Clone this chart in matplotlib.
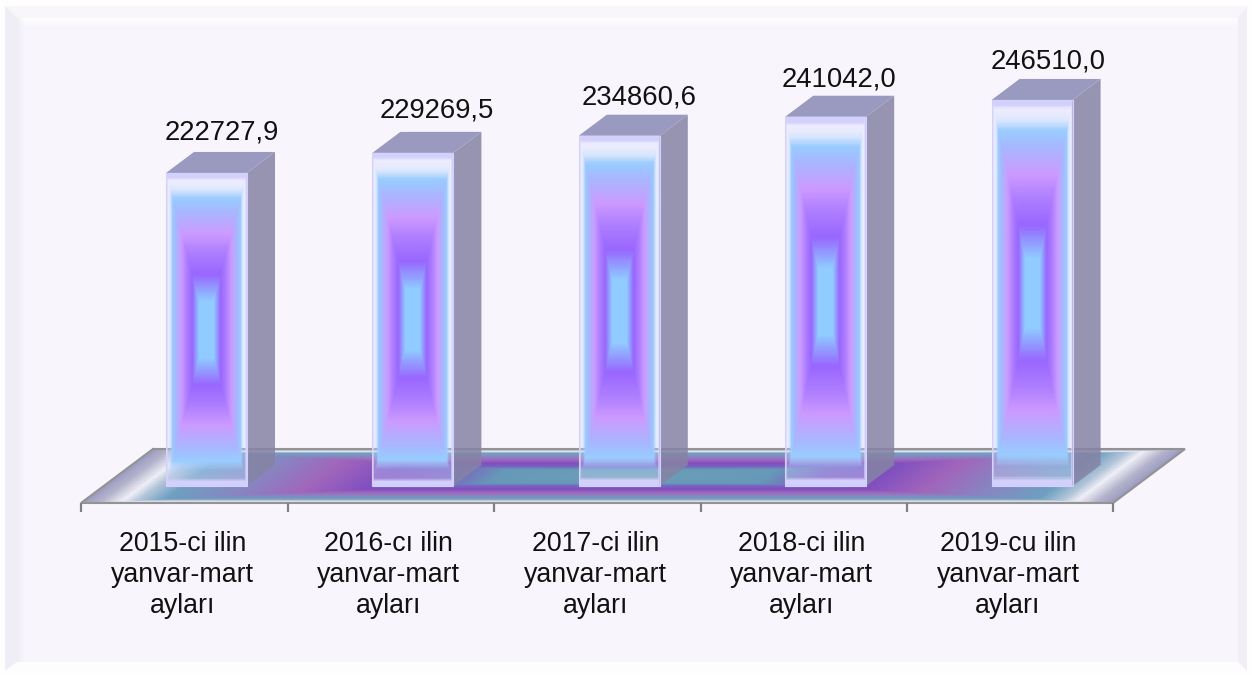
import numpy as np
import matplotlib
matplotlib.use("Agg")
import matplotlib.pyplot as plt
from matplotlib.patches import Polygon, Rectangle
from matplotlib.colors import to_rgb

# ---- data
categories = ["2015-ci ilin\nyanvar-mart\nayları",
              "2016-cı ilin\nyanvar-mart\nayları",
              "2017-ci ilin\nyanvar-mart\nayları",
              "2018-ci ilin\nyanvar-mart\nayları",
              "2019-cu ilin\nyanvar-mart\nayları"]
values = [222727.9, 229269.5, 234860.6, 241042.0, 246510.0]
value_labels = ["222727,9", "229269,5", "234860,6", "241042,0", "246510,0"]

# ---- layout (pixels of the 1252x675 canvas)
W, H = 1252, 675
CAT_W = 206.4          # px per category
CAT0 = 184.5           # px of first category centre
BASE_PX = 486          # px of bar foot
PX_PER_UNIT = 0.00307  # px per value unit
Y_BASE = 120758.0      # value at bar foot
label_dx = [15, 24, 20, 13, 16]
label_dy = [40, 42, 38, 37, 38]

plt.rcParams["font.family"] = ["Liberation Sans", "DejaVu Sans"]
fig = plt.figure(figsize=(W / 100, H / 100), dpi=100, facecolor="#ffffff")

# decorative bevel frame, in pixel space
bg = fig.add_axes([0, 0, 1, 1])
bg.axis("off")
bg.add_patch(Rectangle((0, 0), W, H, fc="#fefefe", ec="none"))
o = (5, 6, 1247, 671); i = (17, 18, 1238, 662)
bg.add_patch(Polygon([(o[0], o[1]), (o[2], o[1]), (i[2], i[1]), (i[0], i[1])], fc="#f8f6fb", ec="none"))
bg.add_patch(Polygon([(o[0], o[1]), (i[0], i[1]), (i[0], i[3]), (o[0], o[3])], fc="#efedf5", ec="none"))
bg.add_patch(Polygon([(o[2], o[1]), (i[2], i[1]), (i[2], i[3]), (o[2], o[3])], fc="#f1eff5", ec="none"))
bg.add_patch(Polygon([(o[0], o[3]), (i[0], i[3]), (i[2], i[3]), (o[2], o[3])], fc="#fefdfe", ec="none"))
bg.add_patch(Rectangle((i[0], i[1]), i[2] - i[0], i[3] - i[1], fc="#f8f6fc", ec="none"))
fade_v = np.ones((10, 1, 4)); fade_v[:, 0, 3] = np.linspace(.9, 0, 10)
bg.imshow(fade_v, extent=(i[0], i[2], i[1] + 10, i[1]), aspect="auto", zorder=1)
fade_l = np.ones((1, 8, 4)); fade_l[..., :3] = to_rgb("#efedf5"); fade_l[0, :, 3] = np.linspace(.9, 0, 8)
bg.imshow(fade_l, extent=(i[0], i[0] + 8, i[3], i[1]), aspect="auto", zorder=1)
bg.set_xlim(0, W); bg.set_ylim(H, 0)

# chart axes: data scale on y, category index on x
ax = fig.add_axes([0, 0, 1, 1], facecolor="none")
ax.set_xlim(-CAT0 / CAT_W, (W - CAT0) / CAT_W)
ax.set_ylim(Y_BASE - (H - BASE_PX) / PX_PER_UNIT, Y_BASE + BASE_PX / PX_PER_UNIT)
ax.axis("off")
dxu = 1 / CAT_W            # data units per px, x
dyu = 1 / PX_PER_UNIT      # data units per px, y


def ramp(stops, t):
    ts = [s[0] for s in stops]
    out = np.zeros(t.shape + (4,))
    rgb = [to_rgb(s[1]) for s in stops]
    for c in range(3):
        out[..., c] = np.interp(t, ts, [r[c] for r in rgb])
    out[..., 3] = np.interp(t, ts, [s[2] for s in stops])
    return out


bar_stops = [(0.00, "#cfcdfb", 1), (0.028, "#d4d2fc", 1), (0.05, "#ddddff", .35), (0.10, "#b8d4ff", .4),
             (0.16, "#99ccff", 1), (0.24, "#a6b8ff", 1), (0.39, "#cc99ff", 1),
             (0.50, "#b080ff", 1), (0.65, "#9966ff", 1), (0.76, "#90a8ff", 1),
             (0.82, "#90ccff", 1), (1.00, "#90ccff", 1)]
floor_stops = [(0.00, "#9a9ac0", 1), (0.035, "#b4b4cc", 1), (0.075, "#eeeef6", 1), (0.105, "#b0c4d8", 1),
               (0.155, "#6e9fc0", 1), (0.30, "#8c80c0", 1), (0.40, "#a065bb", 1),
               (0.52, "#7f4fc0", 1), (0.64, "#7a60c0", 1), (0.74, "#6699b8", 1), (1.00, "#6b9fb4", 1)]

# floor (a parallelogram with the same nested gradient)
F_L, F_R, F_Y, F_DX, F_DY = 81, 1113, 503, 72, 54
u = np.linspace(0, 1, 521)
v = np.linspace(0, 1, 109)
U, V = np.meshgrid(u, v)
Xpx = F_L + (F_R - F_L) * U + F_DX * V
Ypx = F_Y - F_DY * V
to_x = lambda p: (p - CAT0) / CAT_W
to_y = lambda p: Y_BASE + (BASE_PX - p) / PX_PER_UNIT
uc = (u[:-1] + u[1:]) / 2
vc = (v[:-1] + v[1:]) / 2
UC, VC = np.meshgrid(uc, vc)
T = 1 - np.maximum(np.abs(2 * UC - 1), np.abs(2 * VC - 1))
ax.pcolormesh(to_x(Xpx), to_y(Ypx), ramp(floor_stops, T), shading="flat", zorder=1,
              antialiased=False, edgecolors="none")
edge = "#939393"
ax.plot(to_x(np.array([F_L + F_DX, F_R + F_DX, F_R, F_L, F_L + F_DX])),
        to_y(np.array([F_Y - F_DY, F_Y - F_DY, F_Y, F_Y, F_Y - F_DY])),
        color=edge, lw=1.5, zorder=2, solid_joinstyle="miter")
# ticks
for k in range(len(categories) + 1):
    ax.plot([k - .5, k - .5], [to_y(F_Y), to_y(F_Y + 9)], color="#808080", lw=1.6, zorder=2,
            solid_capstyle="butt")

# bars
BW = 81 / CAT_W
OFF = 22 / CAT_W
D_X, D_Y = 28 * dxu, 21 * dyu
for k, val in enumerate(values):
    x0 = k + OFF - BW / 2
    x1 = x0 + BW
    n_x, n_y = 81, 315
    xs = np.linspace(x0, x1, n_x + 1)
    ys = np.linspace(Y_BASE, val, n_y + 1)
    ux = (np.arange(n_x) + .5) / n_x
    uy = (np.arange(n_y) + .5) / n_y
    UX, UY = np.meshgrid(ux, uy)
    t = 1 - np.maximum(np.abs(2 * UX - 1), np.abs(2 * UY - 1))
    ax.pcolormesh(xs, ys, ramp(bar_stops, t), shading="flat", zorder=4, antialiased=False,
                  edgecolors="none")
    ax.add_patch(Rectangle((x0, Y_BASE), BW, val - Y_BASE, fc="none", ec="#d4d2fc", lw=.8, zorder=5))
    ax.add_patch(Polygon([(x1, Y_BASE), (x1 + D_X, Y_BASE + D_Y), (x1 + D_X, val + D_Y), (x1, val)],
                         fc="#8583a4", alpha=.85, ec="none", zorder=4))
    ax.add_patch(Polygon([(x0, val), (x1, val), (x1 + D_X, val + D_Y), (x0 + D_X, val + D_Y)],
                         fc="#9a99c0", ec="none", zorder=4))
    ax.annotate(value_labels[k], xy=(k + OFF, val), xytext=(label_dx[k] * .72, label_dy[k] * .72),
                textcoords="offset points", ha="center", va="center", fontsize=19.8,
                color="#111111", zorder=6)
    ax.text(k - .01, to_y(575), categories[k], ha="center", va="center", fontsize=19.3,
            color="#111111", linespacing=1.23, zorder=6)

fig.savefig("out.png", dpi=100)
